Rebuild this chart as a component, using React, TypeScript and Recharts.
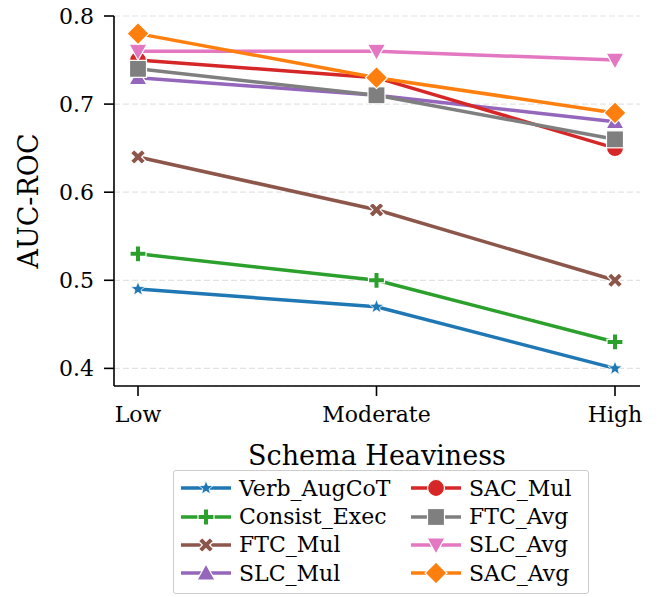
import { CartesianGrid, Line, LineChart, XAxis, YAxis } from "recharts";

const levels = ["Low", "Moderate", "High"];
const verbAugCoT = [0.49, 0.47, 0.4];
const consistExec = [0.53, 0.5, 0.43];
const ftcMul = [0.64, 0.58, 0.5];
const slcMul = [0.73, 0.71, 0.68];
const sacMul = [0.75, 0.73, 0.65];
const ftcAvg = [0.74, 0.71, 0.66];
const slcAvg = [0.76, 0.76, 0.75];
const sacAvg = [0.78, 0.73, 0.69];
const yTicks = [0.4, 0.5, 0.6, 0.7, 0.8];

type Shape =
  | "star"
  | "plus"
  | "x"
  | "triUp"
  | "circle"
  | "square"
  | "triDown"
  | "diamond";

const series: { key: string; values: number[]; color: string; shape: Shape }[] = [
  { key: "Verb_AugCoT", values: verbAugCoT, color: "#1f77b4", shape: "star" },
  { key: "Consist_Exec", values: consistExec, color: "#2ca02c", shape: "plus" },
  { key: "FTC_Mul", values: ftcMul, color: "#8c564b", shape: "x" },
  { key: "SLC_Mul", values: slcMul, color: "#9467bd", shape: "triUp" },
  { key: "SAC_Mul", values: sacMul, color: "#d62728", shape: "circle" },
  { key: "FTC_Avg", values: ftcAvg, color: "#7f7f7f", shape: "square" },
  { key: "SLC_Avg", values: slcAvg, color: "#e377c2", shape: "triDown" },
  { key: "SAC_Avg", values: sacAvg, color: "#ff7f0e", shape: "diamond" },
];

const data = levels.map((level, i) => {
  const row: Record<string, string | number> = { level };
  series.forEach((s) => {
    row[s.key] = s.values[i];
  });
  return row;
});

const FONT = "'DejaVu Serif', serif";

function pts(list: [number, number][]) {
  return list.map(([x, y]) => `${x},${y}`).join(" ");
}

function Marker({
  shape,
  cx,
  cy,
  color,
}: {
  shape: Shape;
  cx: number;
  cy: number;
  color: string;
}) {
  const common = { fill: color, stroke: "#fff", strokeWidth: 1.2 };
  switch (shape) {
    case "star": {
      const p: [number, number][] = [];
      for (let k = 0; k < 10; k++) {
        const r = k % 2 === 0 ? 7.5 : 3.2;
        const a = -Math.PI / 2 + (k * Math.PI) / 5;
        p.push([cx + r * Math.cos(a), cy + r * Math.sin(a)]);
      }
      return <polygon points={pts(p)} {...common} strokeWidth={0.8} />;
    }
    case "plus":
    case "x": {
      const L = 8;
      const w = 2.6;
      const base: [number, number][] = [
        [-w, -L], [w, -L], [w, -w], [L, -w], [L, w], [w, w],
        [w, L], [-w, L], [-w, w], [-L, w], [-L, -w], [-w, -w],
      ];
      const rot = shape === "x" ? Math.PI / 4 : 0;
      const p = base.map(([x, y]) => [
        cx + x * Math.cos(rot) - y * Math.sin(rot),
        cy + x * Math.sin(rot) + y * Math.cos(rot),
      ]) as [number, number][];
      return <polygon points={pts(p)} {...common} />;
    }
    case "triUp":
      return (
        <polygon
          points={pts([[cx, cy - 9], [cx + 9, cy + 7], [cx - 9, cy + 7]])}
          {...common}
        />
      );
    case "triDown":
      return (
        <polygon
          points={pts([[cx, cy + 9], [cx + 9, cy - 7], [cx - 9, cy - 7]])}
          {...common}
        />
      );
    case "circle":
      return <circle cx={cx} cy={cy} r={8.5} {...common} />;
    case "square":
      return <rect x={cx - 8.5} y={cy - 8.5} width={17} height={17} {...common} />;
    case "diamond":
      return (
        <polygon
          points={pts([[cx, cy - 11], [cx + 11, cy], [cx, cy + 11], [cx - 11, cy]])}
          {...common}
        />
      );
  }
  return null;
}

function LegendItem({ s }: { s: (typeof series)[number] }) {
  return (
    <div style={{ display: "flex", alignItems: "center", height: 28.4 }}>
      <svg width={52} height={26} style={{ overflow: "visible" }}>
        <line x1={1} x2={51} y1={13} y2={13} stroke={s.color} strokeWidth={3.5} />
        <Marker shape={s.shape} cx={26} cy={13} color={s.color} />
      </svg>
      <span style={{ marginLeft: 7, fontSize: 22, fontFamily: FONT, color: "#000" }}>
        {s.key}
      </span>
    </div>
  );
}

export default function App() {
  const tickStyle = { fontSize: 22, fontFamily: FONT, fill: "#000" };
  return (
    <div style={{ position: "absolute", left: 0, top: 0, width: 662, height: 597, background: "#fff" }}>
      <LineChart
        width={662}
        height={597}
        data={data}
        margin={{ top: 16, right: 22, left: 34, bottom: 171 }}
      >
        <CartesianGrid
          vertical={false}
          stroke="#e3e3e3"
          strokeDasharray="6 3"
          strokeWidth={1.2}
        />
        <XAxis
          dataKey="level"
          padding={{ left: 24, right: 25 }}
          height={40}
          tickSize={10}
          tickMargin={10}
          tick={tickStyle}
          axisLine={{ stroke: "#000", strokeWidth: 1.6 }}
          tickLine={{ stroke: "#000", strokeWidth: 1.6 }}
          label={{
            content: ({ viewBox }: any) => (
              <text
                x={viewBox.x + viewBox.width / 2}
                y={465}
                textAnchor="middle"
                fontSize={27}
                fontFamily={FONT}
                fill="#000"
              >
                Schema Heaviness
              </text>
            ),
          }}
        />
        <YAxis
          type="number"
          domain={[0.38, 0.8]}
          ticks={yTicks}
          allowDataOverflow
          width={80}
          tickSize={10}
          tickMargin={10}
          tick={tickStyle}
          tickFormatter={(v: number) => v.toFixed(1)}
          axisLine={{ stroke: "#000", strokeWidth: 1.6 }}
          tickLine={{ stroke: "#000", strokeWidth: 1.6 }}
          label={{
            content: ({ viewBox }: any) => {
              const cy = viewBox.y + viewBox.height / 2;
              return (
                <text
                  x={28}
                  y={cy}
                  transform={`rotate(-90, 28, ${cy})`}
                  textAnchor="middle"
                  dominantBaseline="central"
                  fontSize={27}
                  fontFamily={FONT}
                  fill="#000"
                >
                  AUC-ROC
                </text>
              );
            },
          }}
        />
        {series.map((s) => (
          <Line
            key={s.key}
            dataKey={s.key}
            stroke={s.color}
            strokeWidth={3.5}
            isAnimationActive={false}
            activeDot={false}
            dot={(p: any) => (
              <Marker
                key={`${s.key}-${p.index}`}
                shape={s.shape}
                cx={p.cx}
                cy={p.cy}
                color={s.color}
              />
            )}
          />
        ))}
      </LineChart>
      <div
        style={{
          position: "absolute",
          left: 173,
          top: 470,
          width: 416,
          height: 124,
          border: "1.5px solid #cccccc",
          borderRadius: 3,
          background: "#fff",
          boxSizing: "border-box",
        }}
      >
        <div style={{ position: "absolute", left: 6, top: 3 }}>
          {series.slice(0, 4).map((s) => (
            <LegendItem key={s.key} s={s} />
          ))}
        </div>
        <div style={{ position: "absolute", left: 236, top: 3 }}>
          {series.slice(4).map((s) => (
            <LegendItem key={s.key} s={s} />
          ))}
        </div>
      </div>
    </div>
  );
}
